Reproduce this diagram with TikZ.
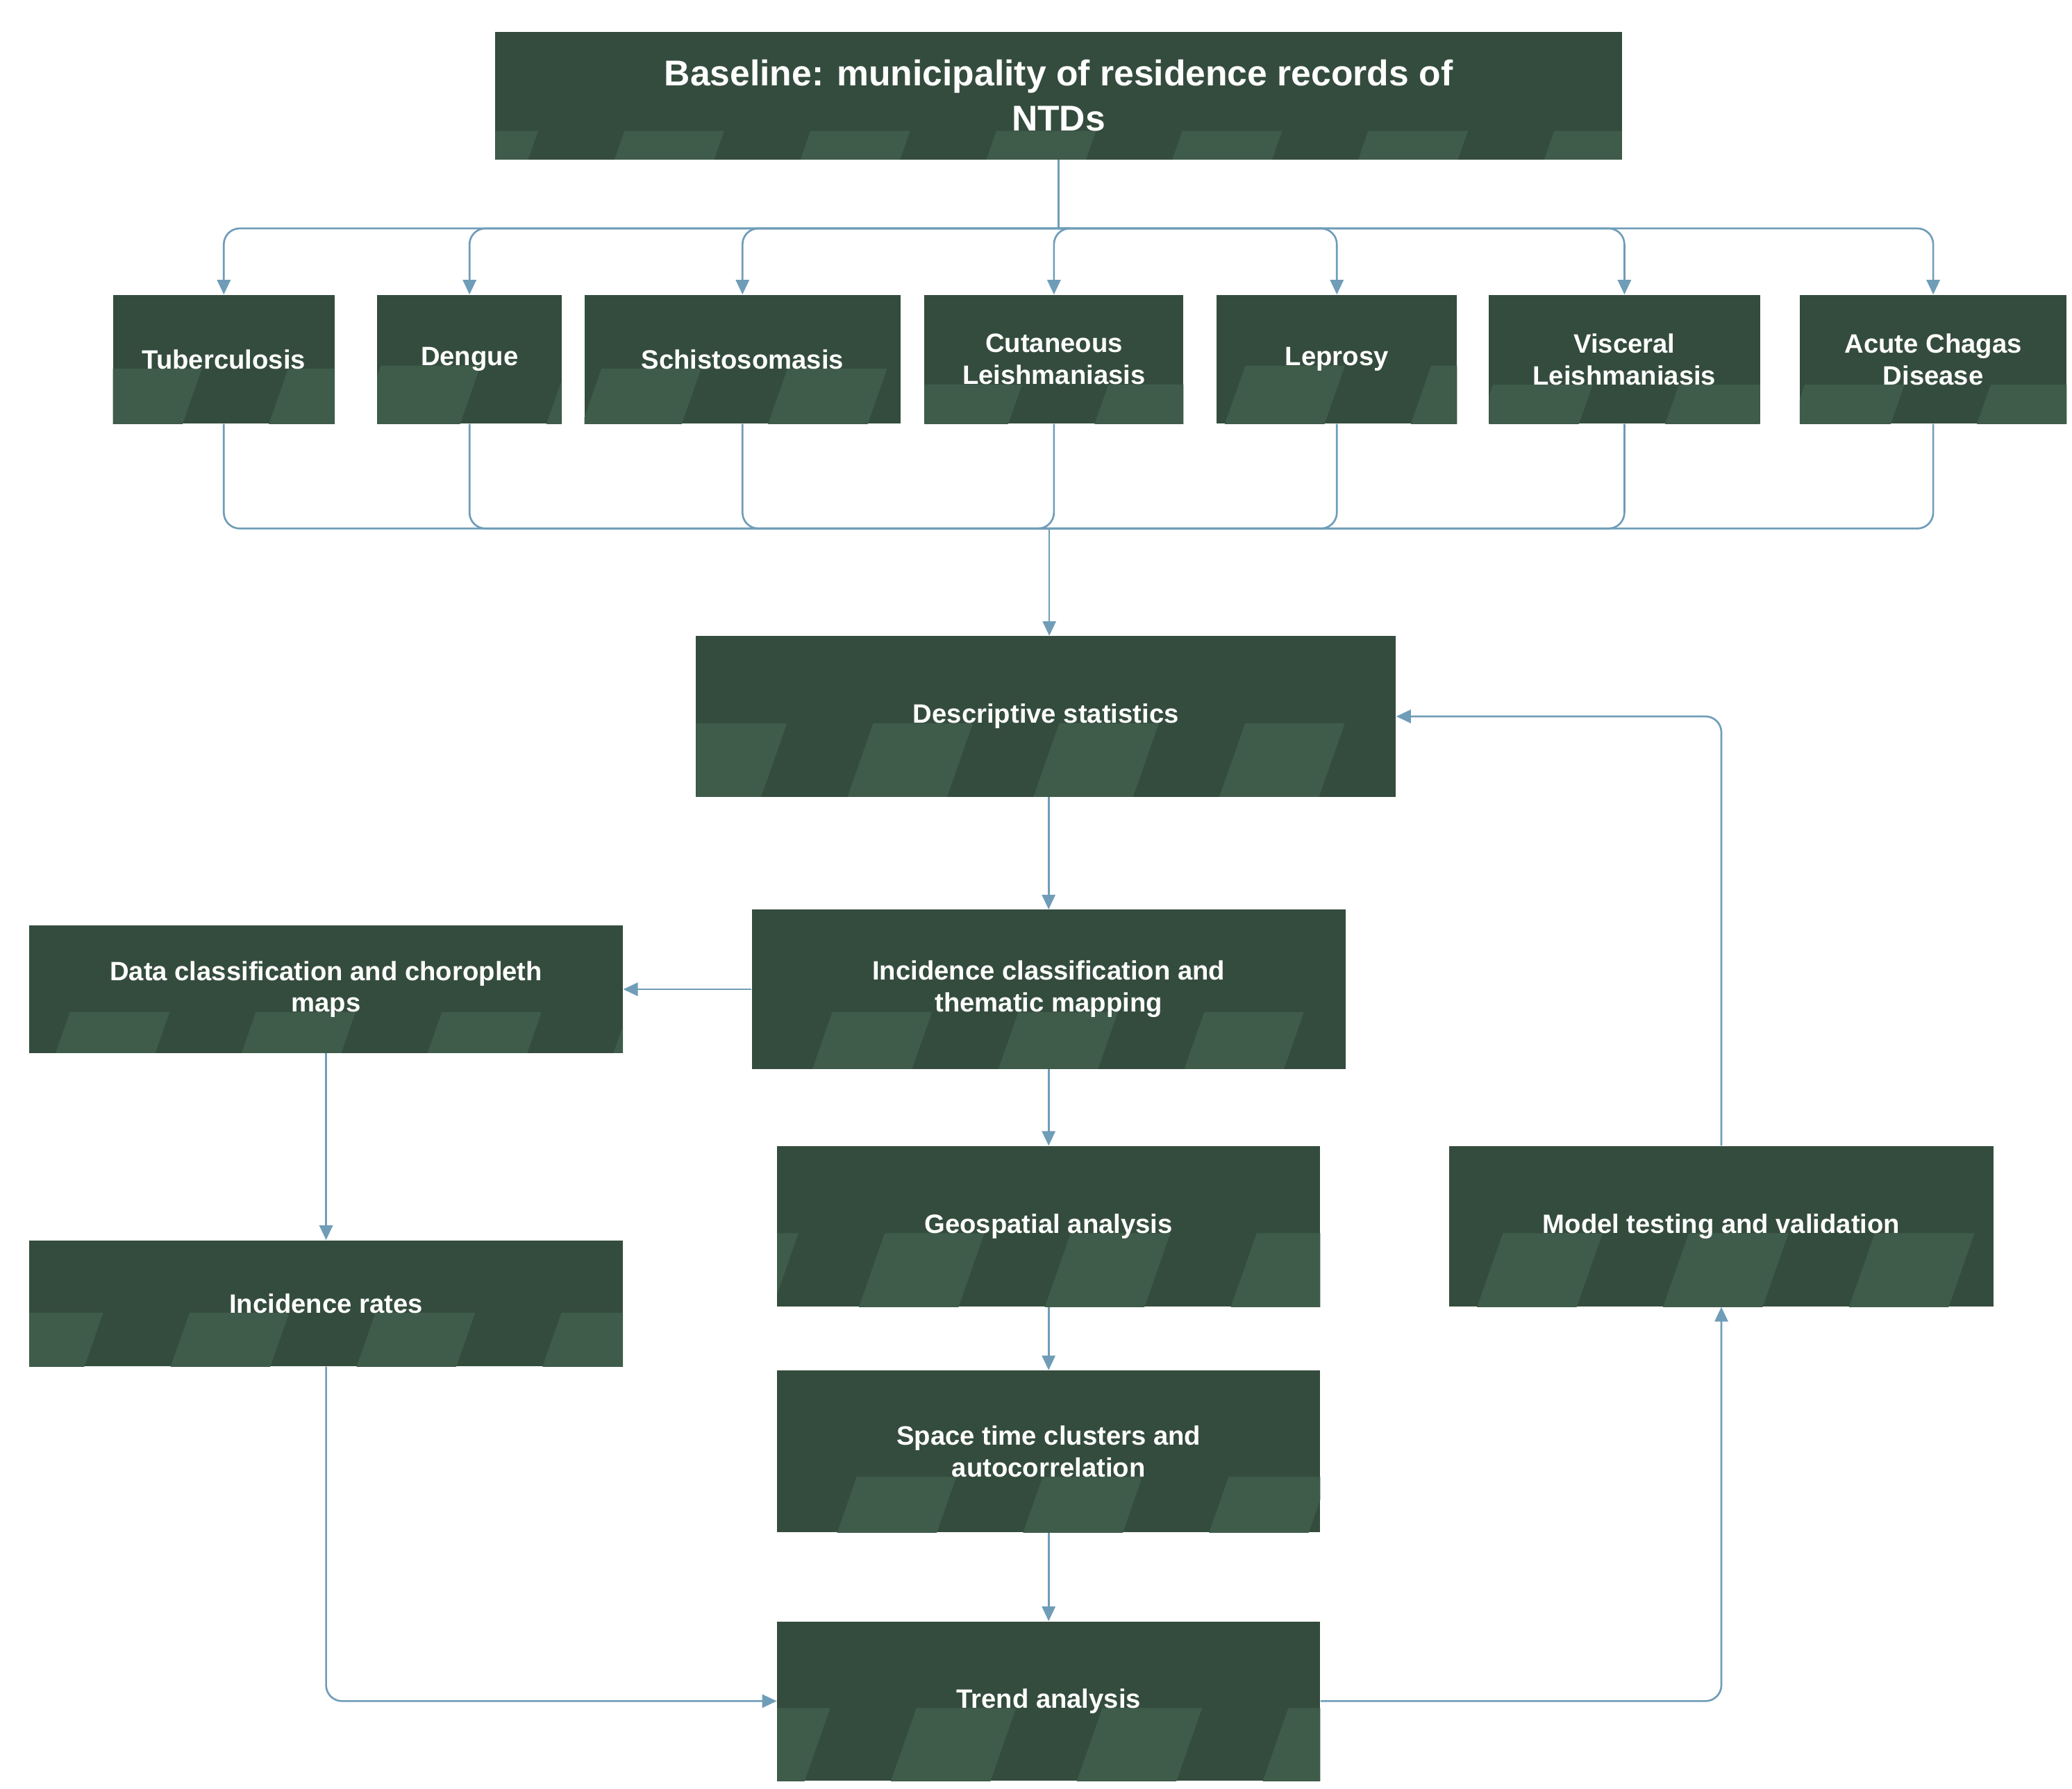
\documentclass[tikz,border=0pt]{standalone}
\usepackage{fontspec}
\setmainfont{Liberation Sans}
\usetikzlibrary{arrows.meta,calc}
\definecolor{dk}{HTML}{344C3D}
\definecolor{lt}{HTML}{3F5C4A}
\definecolor{ln}{HTML}{6F9DB8}
\begin{document}
\begin{tikzpicture}[x=1pt,y=-1pt,
  box/.style={minimum width=#1, fill=dk, text=white, font=\bfseries\fontsize{20}{24}\selectfont, align=center, inner sep=0pt,
    path picture={\foreach \s in {-800,-660,...,1700}{\fill[lt] (\s,1400)--(\s+75,1400)--(\s+75+490,0)--(\s+490,0)--cycle;}}},
  conn/.style={draw=ln, line width=1.4pt, rounded corners=12pt},
  arr/.style={conn, -{Triangle[length=11pt,width=10pt]}}]
\useasboundingbox (0,0) rectangle (1560,1347);
\node[box=848pt, minimum height=96pt, font=\bfseries\fontsize{27}{34}\selectfont] (base) at (797,72) {Baseline: municipality of residence records of\\NTDs};
\foreach \n/\x/\w/\t in {tb/168.5/167/Tuberculosis, de/353.5/139/Dengue, sc/559/238/Schistosomasis, cl/793.5/195/{Cutaneous\\Leishmaniasis}, le/1006.5/181/Leprosy, vl/1223/204/{Visceral\\Leishmaniasis}, ac/1455.5/201/{Acute Chagas\\Disease}}
  \node[box=\w pt, minimum height=97pt] (\n) at (\x,270.5) {\t};
\node[box=527pt, minimum height=121pt] (ds) at (787.5,539.5) {Descriptive statistics};
\node[box=447pt, minimum height=120pt] (ic) at (789.5,745) {Incidence classification and\\thematic mapping};
\node[box=447pt, minimum height=96pt] (dc) at (245.5,745) {Data classification and choropleth\\maps};
\node[box=447pt, minimum height=95pt] (ir) at (245.5,981.5) {Incidence rates};
\node[box=409pt, minimum height=121pt] (ga) at (789.5,923.5) {Geospatial analysis};
\node[box=409pt, minimum height=122pt] (st) at (789.5,1093) {Space time clusters and\\autocorrelation};
\node[box=409pt, minimum height=120pt] (ta) at (789.5,1281) {Trend analysis};
\node[box=410pt, minimum height=121pt] (mt) at (1296,923.5) {Model testing and validation};
\coordinate (hub) at (797,172);
\coordinate (m) at (790,398);
\draw[conn] (base.south) -- (hub);
\foreach \n in {tb,de,sc,cl,le,vl,ac}{
  \draw[arr] (hub) -| (\n.north);
  \draw[conn] (\n.south) |- (m);
}
\draw[arr] (m) -- (ds.north -| m);
\draw[arr] (ds.south -| ic.north) -- (ic.north);
\draw[arr] (ic.west) -- (dc.east);
\draw[arr] (dc.south) -- (ir.north);
\draw[arr] (ir.south) |- (ta.west);
\draw[arr] (ic.south) -- (ga.north);
\draw[arr] (ga.south) -- (st.north);
\draw[arr] (st.south) -- (ta.north);
\draw[arr] (ta.east) -| (mt.south);
\draw[arr] (mt.north) |- (ds.east);
\end{tikzpicture}
\end{document}
